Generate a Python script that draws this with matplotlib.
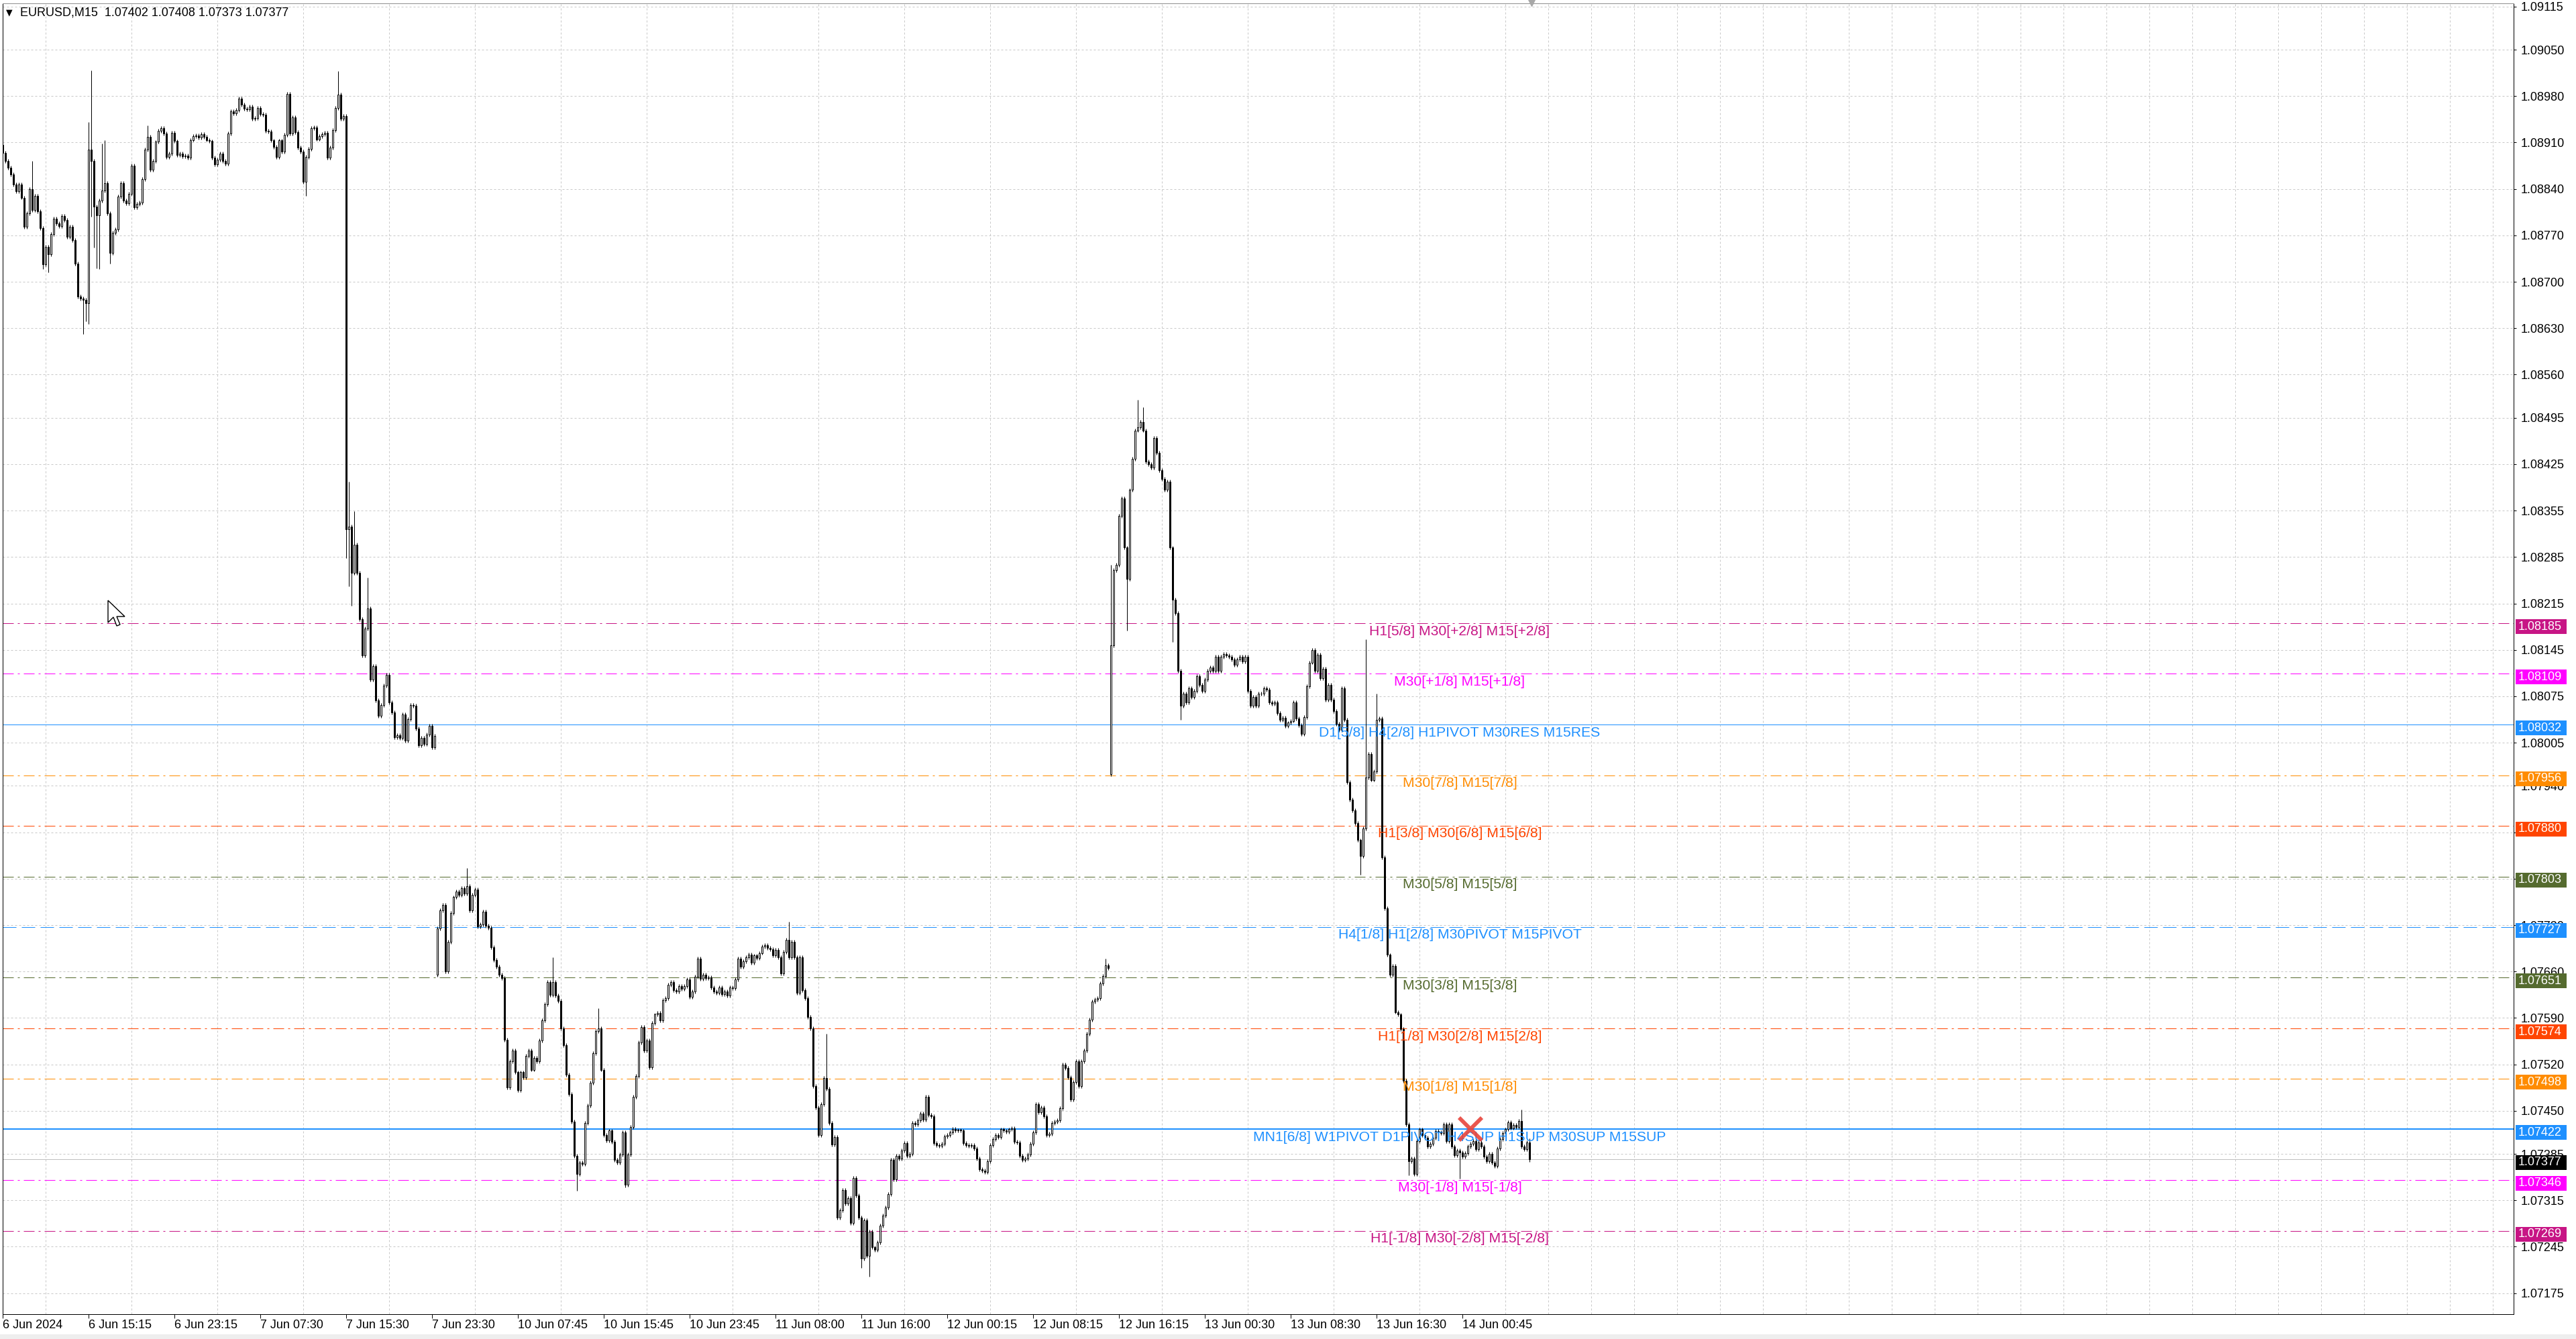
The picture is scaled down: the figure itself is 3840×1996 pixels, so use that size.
import numpy as np
import matplotlib.pyplot as plt
from matplotlib.patches import Rectangle, Polygon
from matplotlib.transforms import blended_transform_factory

plt.rcParams['font.family'] = ['Liberation Sans', 'DejaVu Sans']
plt.rcParams['lines.scale_dashes'] = False

W, H, DPI = 3840, 1996, 100
PX = 72.0 / DPI  # one pixel in points

# EURUSD M15 closes, in points above 1.07000 (1 point = 0.00001)
base = 1.07
close_pts = [
    # 6-7 Jun
    1894, 1882, 1872, 1862, 1847, 1837, 1847, 1827, 1783, 1803, 1840, 1808, 1830, 1806, 1781, 1726,
    1753, 1742, 1772, 1795, 1788, 1784, 1799, 1793, 1768, 1783, 1763, 1727, 1678, 1675, 1673, 1668,
    1899, 1882, 1813, 1800, 1822, 1838, 1849, 1803, 1744, 1774, 1779, 1829, 1849, 1822, 1818, 1833,
    1875, 1812, 1817, 1819, 1855, 1899, 1919, 1869, 1882, 1911, 1928, 1932, 1924, 1888, 1893, 1925,
    1912, 1891, 1893, 1889, 1890, 1887, 1914, 1920, 1921, 1918, 1923, 1919, 1914, 1912, 1887, 1877,
    1884, 1893, 1882, 1878, 1924, 1957, 1954, 1959, 1976, 1967, 1961, 1960, 1964, 1946, 1947, 1962,
    1953, 1952, 1928, 1927, 1913, 1903, 1888, 1913, 1896, 1922, 1983, 1924, 1948, 1926, 1902, 1896,
    1851, 1888, 1900, 1932, 1933, 1915, 1920, 1923, 1925, 1887, 1902, 1929, 1962, 1982, 1946, 1950,
    1327, 1331, 1261, 1304, 1261, 1191, 1137, 1177, 1207, 1100, 1120, 1069, 1046, 1062, 1091, 1107,
    1066, 1051, 1013, 1016, 1012, 1048, 1008, 1041, 1062, 1061, 1026, 1001, 1012, 1003, 1017, 1030,
    998, 1015,
    # 10-12 Jun
    725, 752, 760, 660, 705, 748, 772, 781, 776, 786, 778, 789, 752, 776, 784, 728,
    731, 750, 729, 726, 697, 677, 667, 655, 650, 557,
    485, 525, 541, 508, 481, 508, 500, 533, 541, 512, 530, 525, 556, 586, 611, 644,
    625, 644, 624, 616, 574, 549, 504, 475, 434, 382, 355, 372, 370, 432, 458, 492,
    537, 570, 574, 512, 413, 405, 420, 403, 376, 372, 384, 417, 339, 384, 426, 471,
    502, 553, 576, 541, 556, 516, 582, 595, 598, 586, 617, 620, 640, 644, 632, 630,
    638, 634, 638, 648, 622, 630, 652, 679, 649, 655, 650, 651, 636, 630, 628, 636,
    626, 630, 624, 636, 635, 648, 679, 667, 675, 681, 686, 673, 684, 680, 688, 698,
    700, 696, 694, 684, 693, 681, 657, 690, 708, 681, 705, 681, 628, 681, 632, 620,
    591, 574, 487, 455, 413, 460, 499, 483, 432, 399, 410, 289, 300, 330, 310, 318,
    281, 349, 322, 289, 227, 285, 231, 268, 244, 240, 252, 277, 292, 304, 324, 376,
    347, 382, 378, 390, 401, 382, 385, 432, 430, 436, 446, 437, 471, 444, 442, 401,
    398, 397, 400, 411, 413, 417, 423, 420, 421, 420, 401, 398, 397, 398, 393, 378,
    362, 360, 358, 374, 398, 407, 413, 410, 422, 420, 418, 422, 424, 403, 402, 382,
    376, 378, 384, 400, 417, 460, 448, 455, 442, 413, 415, 432, 434, 436, 454, 520,
    515, 500, 467, 493, 525, 487, 525, 541, 566, 587, 615, 618, 620, 642, 653, 669,
    665,
    # 12-14 Jun
    1152, 1265, 1273, 1347, 1373, 1299, 1252, 1386, 1433, 1476, 1481, 1489, 1476, 1429, 1425, 1420,
    1464, 1442, 1416, 1403, 1386, 1399, 1299, 1221, 1200, 1113, 1061, 1079, 1066, 1087, 1074, 1083,
    1105, 1092, 1083, 1100, 1113, 1118, 1113, 1135, 1113, 1135, 1139, 1137, 1135, 1131, 1122, 1131,
    1135, 1128, 1135, 1083, 1061, 1074, 1061, 1079, 1079, 1087, 1085, 1066, 1064, 1066, 1050, 1040,
    1043, 1030, 1035, 1038, 1066, 1042, 1031, 1018, 1044, 1090, 1126, 1145, 1113, 1138, 1102, 1116,
    1070, 1092, 1070, 1053, 1033, 1024, 1087, 1040, 945, 919, 903, 884, 858, 834, 876, 953,
    988, 949, 962, 1040, 1042, 832, 755, 685, 655, 668, 599, 595, 573, 495, 430, 374,
    378, 355, 404, 422, 413, 409, 396, 400, 409, 419, 417, 416, 430, 404, 430, 396,
    383, 390, 387, 381, 386, 396, 400, 404, 392, 402, 396, 381, 374, 385, 372, 367,
    393, 407, 416, 422, 433, 424, 429, 426, 435, 396, 392, 402, 377,
]
# opens that do not follow the previous close (first bar, Monday gap, CPI gap)
gap_open_pts = {0: 1906, 162: 655, 413: 958}
high_pts = {11: 1882, 32: 1941, 33: 2019, 37: 1908, 38: 1913, 54: 1936, 106: 1985,
            125: 2018, 129: 1399, 131: 1354, 136: 1254, 173: 816, 205: 681, 222: 605,
            293: 735, 307: 566, 411: 679, 413: 1273, 423: 1522, 425: 1511, 508: 1161,
            512: 1079, 566: 452, 569: 408}
low_pts = {15: 1719, 17: 1714, 30: 1621, 31: 1640, 32: 1636, 33: 1798, 34: 1752,
           35: 1720, 36: 1719, 40: 1727, 113: 1830, 128: 1283, 129: 1241, 130: 1212,
           214: 329, 232: 335, 320: 213, 323: 200, 419: 1174, 436: 1157, 439: 1040,
           506: 806, 524: 353, 543: 348, 569: 373}

header = 'EURUSD,M15  1.07402 1.07408 1.07373 1.07377'
bid = 1.07377

time_labels = ['6 Jun 2024', '6 Jun 15:15', '6 Jun 23:15', '7 Jun 07:30', '7 Jun 15:30',
               '7 Jun 23:30', '10 Jun 07:45', '10 Jun 15:45', '10 Jun 23:45', '11 Jun 08:00',
               '11 Jun 16:00', '12 Jun 00:15', '12 Jun 08:15', '12 Jun 16:15', '13 Jun 00:30',
               '13 Jun 08:30', '13 Jun 16:30', '14 Jun 00:45']
price_ticks = [1.09115, 1.09050, 1.08980, 1.08910, 1.08840, 1.08770, 1.08700, 1.08630,
               1.08560, 1.08495, 1.08425, 1.08355, 1.08285, 1.08215, 1.08145, 1.08075,
               1.08005, 1.07940, 1.07870, 1.07800, 1.07730, 1.07660, 1.07590, 1.07520,
               1.07450, 1.07385, 1.07315, 1.07245, 1.07175]

level_prices = [1.08185, 1.08109, 1.08032, 1.07956, 1.07880, 1.07803, 1.07727,
                1.07651, 1.07574, 1.07498, 1.07422, 1.07346, 1.07269]
level_names = ['H1[5/8] M30[+2/8] M15[+2/8]', 'M30[+1/8] M15[+1/8]',
               'D1[5/8] H4[2/8] H1PIVOT M30RES M15RES', 'M30[7/8] M15[7/8]',
               'H1[3/8] M30[6/8] M15[6/8]', 'M30[5/8] M15[5/8]',
               'H4[1/8] H1[2/8] M30PIVOT M15PIVOT', 'M30[3/8] M15[3/8]',
               'H1[1/8] M30[2/8] M15[2/8]', 'M30[1/8] M15[1/8]',
               'MN1[6/8] W1PIVOT D1PIVOT H4SUP H1SUP M30SUP M15SUP',
               'M30[-1/8] M15[-1/8]', 'H1[-1/8] M30[-2/8] M15[-2/8]']
level_colors = ['#C71585', '#FF00FF', '#1E90FF', '#FF8C00', '#FF4500', '#556B2F', '#1E90FF',
                '#556B2F', '#FF4500', '#FF8C00', '#1E90FF', '#FF00FF', '#C71585']

dashdot = (0, (16 * PX, 6 * PX, 3 * PX, 6 * PX))
level_styles = [dashdot, dashdot, '-', dashdot, dashdot, dashdot, (0, (20 * PX, 8 * PX)),
                dashdot, dashdot, dashdot, '-', dashdot, dashdot]
level_widths = [1, 1, 1, 1, 1, 1, 1, 1, 1, 1, 2, 1, 1]

# ---- OHLC
n = len(close_pts)
idx = np.arange(n)
c = base + np.array(close_pts) / 1e5
o = np.empty(n)
for i in range(n):
    o[i] = base + gap_open_pts[i] / 1e5 if i in gap_open_pts else c[i - 1]
wick = 3 / 1e5
hi = np.maximum(o, c) + wick
lo = np.minimum(o, c) - wick
for i, v in high_pts.items():
    hi[i] = max(hi[i], base + v / 1e5)
for i, v in low_pts.items():
    lo[i] = min(lo[i], base + v / 1e5)

# ---- figure
fig = plt.figure(figsize=(W / DPI, H / DPI), dpi=DPI)
fig.patch.set_facecolor('white')
ax_l, ax_r, ax_t, ax_b = 3.5, 3747, 4.5, 1959
ax = fig.add_axes([ax_l / W, 1 - ax_b / H, (ax_r - ax_l) / W, (ax_b - ax_t) / H])
ax.set_facecolor('white')

ppx = 1 / 98860  # price per pixel
y_top = 1.09115 + (9.8 - ax_t) * ppx
y_bot = 1.09115 - (ax_b - 9.8) * ppx
ax.set_ylim(y_bot, y_top)
ax.set_xlim(-0.125, (ax_r - 4) / 4)

# grid
ax.set_yticks(price_ticks)
ax.set_yticklabels([f'{p:.5f}' for p in price_ticks])
ax.set_xticks(np.arange(len(time_labels)) * 32)
ax.set_xticklabels(time_labels)
ax.set_xticks(np.arange(0, 936, 16), minor=True)
ax.tick_params(axis='x', which='minor', length=0)
gkw = dict(color='#C8C8C8', lw=PX, ls=(0, (3 * PX, 3 * PX)), zorder=0)
ax.grid(axis='y', which='major', **gkw)
ax.grid(axis='x', which='minor', **gkw)
ax.set_axisbelow(True)

ax.yaxis.tick_right()
ax.tick_params(axis='y', length=3, width=PX, pad=5, labelsize=13, colors='black')
ax.tick_params(axis='x', which='major', length=4, width=PX, pad=2, labelsize=13)
for lbl in ax.get_xticklabels():
    lbl.set_ha('left')

for s in ['right', 'bottom', 'left']:
    ax.spines[s].set_color('black')
    ax.spines[s].set_linewidth(PX)
ax.spines['top'].set_color('#909090')
ax.spines['top'].set_linewidth(PX)

# level lines
for p, col, st, lw in zip(level_prices, level_colors, level_styles, level_widths):
    ax.axhline(p, color=col, ls=st, lw=lw * PX, zorder=1)
ax.axhline(bid, color='#C0C0C0', lw=PX, zorder=1)

# candles
ax.vlines(idx, lo, hi, color='black', lw=PX, zorder=3)
bull = c >= o
ax.bar(idx[bull], (c - o)[bull], bottom=o[bull], width=0.6, color='white',
       edgecolor='black', linewidth=PX, zorder=4)
ax.bar(idx[~bull], (c - o)[~bull], bottom=o[~bull], width=0.6, color='black',
       edgecolor='black', linewidth=PX, zorder=4)

# level captions
for p, name, col in zip(level_prices, level_names, level_colors):
    ax.annotate(name, xy=(543, p), xytext=(0, -12 * PX), textcoords='offset points',
                ha='center', va='center', color=col, fontsize=15.2, zorder=5)

# red cross
ax.plot([547], [1.07423], marker='x', ms=24, mew=4.2, color='#E8453C', alpha=0.9, zorder=6)

# price tags on the axis
tr = blended_transform_factory(fig.transFigure, ax.transData)
tags = list(zip(level_prices, level_colors)) + [(bid, 'black')]
for p, col in tags:
    rect = Rectangle((3750 / W, p - 16 * ppx), 76 / W, 22 * ppx, transform=tr,
                     facecolor=col, edgecolor='none', clip_on=False, zorder=7)
    ax.add_artist(rect)
    ax.text(3754 / W, p - 5 * ppx, f'{p:.5f}', transform=tr, color='white', fontsize=13,
            ha='left', va='center', clip_on=False, zorder=8)

# header
fig.text(14 / W, 1 - 19 / H, '\u25BC', fontsize=9, family='DejaVu Sans', ha='center', va='center')
fig.text(30 / W, 1 - 19 / H, header, fontsize=13, ha='left', va='center')

# shift marker at top
fig.lines.append(plt.Line2D([2283 / W], [1 - 3 / H], marker='v', ms=9, color='#A8A8A8',
                            transform=fig.transFigure))

# mouse pointer left on the chart
tip_x, tip_y = 161, 895
arrow = [(0, 0), (0, 33), (8, 25), (13, 38), (18, 36), (13, 24), (25, 24)]
fig.patches.append(Polygon([((tip_x + dx) / W, 1 - (tip_y + dy) / H) for dx, dy in arrow],
                           closed=True, transform=fig.transFigure, facecolor='white',
                           edgecolor='black', lw=1.4 * PX, zorder=9))

# window frame
fig.patches.append(Rectangle((0, 0), 1, 7 / H, transform=fig.transFigure,
                             facecolor='#EEEEEE', edgecolor='none'))

fig.savefig('out.png', dpi=DPI, facecolor='white')
